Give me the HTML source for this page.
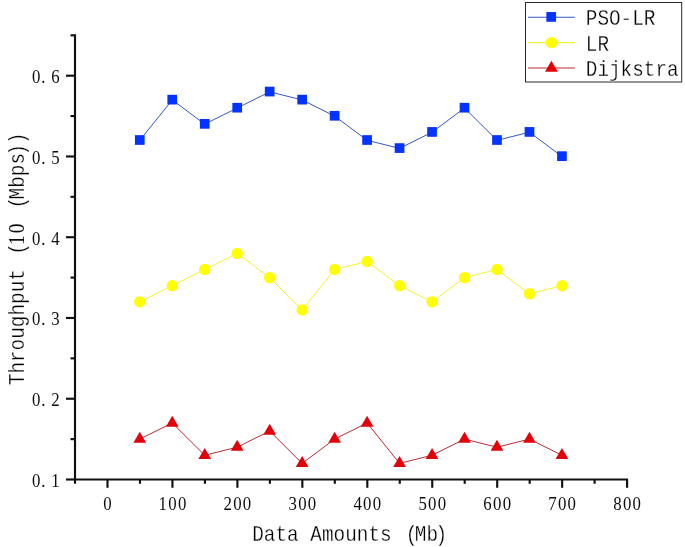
<!DOCTYPE html>
<html lang="en"><head><meta charset="utf-8"><title>Throughput vs Data Amounts</title>
<style>
html,body{margin:0;padding:0;background:#fff;}
body{width:685px;height:547px;overflow:hidden;}
svg{display:block;}
text{font-family:"Liberation Serif",serif;fill:#0d0d0d;}
.tk{font-size:19.3px;text-anchor:middle;}
.big{font-size:23.2px;text-anchor:middle;}
.mono{font-family:"Liberation Mono",monospace;font-size:19.364px;white-space:pre;stroke:#fff;stroke-width:0.25px;fill:#000;}
.dg{font-family:"Liberation Serif",serif;font-size:19.364px;letter-spacing:1.938px;stroke:none;fill:#0d0d0d;}
</style></head><body>
<svg width="685" height="547" viewBox="0 0 685 547">
<rect width="685" height="547" fill="#fff"/>
<g id="series-pso">
<polyline points="139.78,140.31 172.25,99.93 204.72,124.16 237.2,108 269.68,91.85 302.15,99.93 334.62,116.08 367.1,140.31 399.57,148.38 432.05,132.23 464.52,108 497,140.31 529.47,132.23 561.95,156.46" fill="none" stroke="#3557c8" stroke-width="1"/>
<rect x="134.93" y="135.16" width="9.7" height="9.7" fill="#0433ff"/>
<rect x="167.4" y="94.78" width="9.7" height="9.7" fill="#0433ff"/>
<rect x="199.88" y="119.01" width="9.7" height="9.7" fill="#0433ff"/>
<rect x="232.35" y="102.85" width="9.7" height="9.7" fill="#0433ff"/>
<rect x="264.82" y="86.7" width="9.7" height="9.7" fill="#0433ff"/>
<rect x="297.3" y="94.78" width="9.7" height="9.7" fill="#0433ff"/>
<rect x="329.77" y="110.93" width="9.7" height="9.7" fill="#0433ff"/>
<rect x="362.25" y="135.16" width="9.7" height="9.7" fill="#0433ff"/>
<rect x="394.72" y="143.23" width="9.7" height="9.7" fill="#0433ff"/>
<rect x="427.2" y="127.08" width="9.7" height="9.7" fill="#0433ff"/>
<rect x="459.67" y="102.85" width="9.7" height="9.7" fill="#0433ff"/>
<rect x="492.15" y="135.16" width="9.7" height="9.7" fill="#0433ff"/>
<rect x="524.62" y="127.08" width="9.7" height="9.7" fill="#0433ff"/>
<rect x="557.1" y="151.31" width="9.7" height="9.7" fill="#0433ff"/>
</g>
<g id="series-lr">
<polyline points="139.78,301.83 172.25,285.68 204.72,269.52 237.2,253.37 269.68,277.6 302.15,309.9 334.62,269.52 367.1,261.45 399.57,285.68 432.05,301.83 464.52,277.6 497,269.52 529.47,293.75 561.95,285.68" fill="none" stroke="#f3f332" stroke-width="1"/>
<circle cx="139.78" cy="301.83" r="5.7" fill="#ffff00"/>
<circle cx="172.25" cy="285.68" r="5.7" fill="#ffff00"/>
<circle cx="204.72" cy="269.52" r="5.7" fill="#ffff00"/>
<circle cx="237.2" cy="253.37" r="5.7" fill="#ffff00"/>
<circle cx="269.68" cy="277.6" r="5.7" fill="#ffff00"/>
<circle cx="302.15" cy="309.9" r="5.7" fill="#ffff00"/>
<circle cx="334.62" cy="269.52" r="5.7" fill="#ffff00"/>
<circle cx="367.1" cy="261.45" r="5.7" fill="#ffff00"/>
<circle cx="399.57" cy="285.68" r="5.7" fill="#ffff00"/>
<circle cx="432.05" cy="301.83" r="5.7" fill="#ffff00"/>
<circle cx="464.52" cy="277.6" r="5.7" fill="#ffff00"/>
<circle cx="497" cy="269.52" r="5.7" fill="#ffff00"/>
<circle cx="529.47" cy="293.75" r="5.7" fill="#ffff00"/>
<circle cx="561.95" cy="285.68" r="5.7" fill="#ffff00"/>
</g>
<g id="series-dijkstra">
<polyline points="139.78,439.12 172.25,422.97 204.72,455.27 237.2,447.2 269.68,431.04 302.15,463.35 334.62,439.12 367.1,422.97 399.57,463.35 432.05,455.27 464.52,439.12 497,447.2 529.47,439.12 561.95,455.27" fill="none" stroke="#bb2a36" stroke-width="1"/>
<polygon points="139.78,431.79 133.43,442.79 146.12,442.79" fill="#e40008"/>
<polygon points="172.25,415.64 165.9,426.63 178.6,426.63" fill="#e40008"/>
<polygon points="204.72,447.94 198.38,458.94 211.07,458.94" fill="#e40008"/>
<polygon points="237.2,439.86 230.85,450.86 243.55,450.86" fill="#e40008"/>
<polygon points="269.68,423.71 263.32,434.71 276.03,434.71" fill="#e40008"/>
<polygon points="302.15,456.02 295.8,467.01 308.5,467.01" fill="#e40008"/>
<polygon points="334.62,431.79 328.27,442.79 340.98,442.79" fill="#e40008"/>
<polygon points="367.1,415.64 360.75,426.63 373.45,426.63" fill="#e40008"/>
<polygon points="399.57,456.02 393.22,467.01 405.93,467.01" fill="#e40008"/>
<polygon points="432.05,447.94 425.7,458.94 438.4,458.94" fill="#e40008"/>
<polygon points="464.52,431.79 458.17,442.79 470.88,442.79" fill="#e40008"/>
<polygon points="497,439.86 490.65,450.86 503.35,450.86" fill="#e40008"/>
<polygon points="529.47,431.79 523.12,442.79 535.82,442.79" fill="#e40008"/>
<polygon points="561.95,447.94 555.6,458.94 568.3,458.94" fill="#e40008"/>
</g>
<g id="axes" stroke="#111" stroke-width="2.15" fill="none">
<line x1="75" y1="34.2" x2="75" y2="480.5"/>
<line x1="74" y1="479.5" x2="628" y2="479.5"/>
<line x1="66" y1="479.5" x2="75" y2="479.5"/>
<line x1="66" y1="398.74" x2="75" y2="398.74"/>
<line x1="66" y1="317.98" x2="75" y2="317.98"/>
<line x1="66" y1="237.22" x2="75" y2="237.22"/>
<line x1="66" y1="156.46" x2="75" y2="156.46"/>
<line x1="66" y1="75.7" x2="75" y2="75.7"/>
<line x1="70.5" y1="439.12" x2="75" y2="439.12"/>
<line x1="70.5" y1="358.36" x2="75" y2="358.36"/>
<line x1="70.5" y1="277.6" x2="75" y2="277.6"/>
<line x1="70.5" y1="196.84" x2="75" y2="196.84"/>
<line x1="70.5" y1="116.08" x2="75" y2="116.08"/>
<line x1="70.5" y1="35.32" x2="75" y2="35.32"/>
<line x1="107.5" y1="479.5" x2="107.5" y2="487.8"/>
<line x1="172.45" y1="479.5" x2="172.45" y2="487.8"/>
<line x1="237.4" y1="479.5" x2="237.4" y2="487.8"/>
<line x1="302.35" y1="479.5" x2="302.35" y2="487.8"/>
<line x1="367.3" y1="479.5" x2="367.3" y2="487.8"/>
<line x1="432.25" y1="479.5" x2="432.25" y2="487.8"/>
<line x1="497.2" y1="479.5" x2="497.2" y2="487.8"/>
<line x1="562.15" y1="479.5" x2="562.15" y2="487.8"/>
<line x1="627.1" y1="479.5" x2="627.1" y2="487.8"/>
<line x1="139.97" y1="479.5" x2="139.97" y2="483.8"/>
<line x1="204.93" y1="479.5" x2="204.93" y2="483.8"/>
<line x1="269.88" y1="479.5" x2="269.88" y2="483.8"/>
<line x1="334.82" y1="479.5" x2="334.82" y2="483.8"/>
<line x1="399.77" y1="479.5" x2="399.77" y2="483.8"/>
<line x1="464.72" y1="479.5" x2="464.72" y2="483.8"/>
<line x1="529.67" y1="479.5" x2="529.67" y2="483.8"/>
<line x1="594.62" y1="479.5" x2="594.62" y2="483.8"/>
<line x1="75" y1="479.5" x2="75" y2="483.8"/>
</g>
<g id="ylabels">
<text class="tk" transform="translate(0,486.8) scale(0.87,1)" x="41.61 49.89 63.79">0.1</text>
<text class="tk" transform="translate(0,406.04) scale(0.87,1)" x="41.61 49.89 63.79">0.2</text>
<text class="tk" transform="translate(0,325.28) scale(0.87,1)" x="41.61 49.89 63.79">0.3</text>
<text class="tk" transform="translate(0,244.52) scale(0.87,1)" x="41.61 49.89 63.79">0.4</text>
<text class="tk" transform="translate(0,163.76) scale(0.87,1)" x="41.61 49.89 63.79">0.5</text>
<text class="tk" transform="translate(0,83) scale(0.87,1)" x="41.61 49.89 63.79">0.6</text>
</g>
<g id="xlabels">
<text class="tk" transform="translate(0,510.2) scale(0.87,1)" x="123.56">0</text>
<text class="tk" transform="translate(0,510.2) scale(0.87,1)" x="187.13 198.22 209.31">100</text>
<text class="tk" transform="translate(0,510.2) scale(0.87,1)" x="261.78 272.87 283.97">200</text>
<text class="tk" transform="translate(0,510.2) scale(0.87,1)" x="336.44 347.53 358.62">300</text>
<text class="tk" transform="translate(0,510.2) scale(0.87,1)" x="411.09 422.18 433.28">400</text>
<text class="tk" transform="translate(0,510.2) scale(0.87,1)" x="485.75 496.84 507.93">500</text>
<text class="tk" transform="translate(0,510.2) scale(0.87,1)" x="560.4 571.49 582.59">600</text>
<text class="tk" transform="translate(0,510.2) scale(0.87,1)" x="635.06 646.15 657.24">700</text>
<text class="tk" transform="translate(0,510.2) scale(0.87,1)" x="709.71 720.8 731.9">800</text>
</g>
<text class="mono" dx="0 0 0 0 0 0 0 0 0 0 0 0 0 2.6 -2.6 0 -2.6" transform="translate(252.23,540.7) scale(1,1.18)">Data Amounts (Mb)</text>
<text class="mono" dx="0 0 0 0 0 0 0 0 0 0 0 2.6 -1.63 0 -0.97 2.6 -2.6 0 0 0 -2.6 0" transform="translate(23.6,385.22) rotate(-90) scale(1,1.18)">Throughput (<tspan class="dg">10</tspan> (Mbps))</text>
<g id="legend">
<rect x="525.5" y="2.5" width="156.2" height="79.5" fill="#fff" stroke="#2b2b2b" stroke-width="1"/>
<line x1="528" y1="17.2" x2="574.8" y2="17.2" stroke="#3557c8" stroke-width="1.1"/>
<rect x="546.35" y="12.05" width="9.7" height="9.7" fill="#0433ff"/>
<text class="mono" transform="translate(585.8,25.4) scale(1,1.18)">PSO-LR</text>
<line x1="528" y1="42.6" x2="574.8" y2="42.6" stroke="#f3f332" stroke-width="1.1"/>
<circle cx="551.4" cy="42.6" r="5.7" fill="#ffff00"/>
<text class="mono" transform="translate(585.8,50.9) scale(1,1.18)">LR</text>
<line x1="528" y1="68" x2="574.8" y2="68" stroke="#bb2a36" stroke-width="1.1"/>
<polygon points="551.4,60.67 545.05,71.67 557.75,71.67" fill="#e40008"/>
<text class="mono" transform="translate(585.8,76.3) scale(1,1.18)">Dijkstra</text>
</g>
</svg></body></html>
